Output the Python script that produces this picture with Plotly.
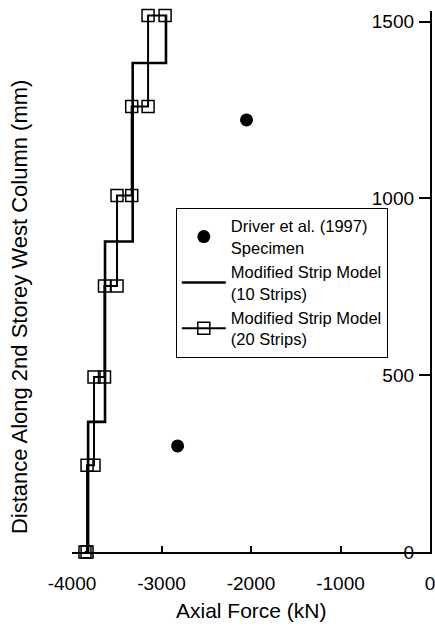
import plotly.graph_objects as go

# Driver et al. (1997) specimen measurements
driver_force = [-2050, -2820]
driver_dist = [1222, 300]

# Modified Strip Model (10 strips) - step profile
strip10_force = [-3820, -3820, -3631, -3631, -3322, -3322, -2950, -2950]
strip10_dist = [0, 368, 368, 878, 878, 1383, 1383, 1520]

# Modified Strip Model (20 strips) - step profile with markers at corners
strip20_force = [-3855, -3832, -3832, -3754, -3754, -3637, -3637, -3497,
                 -3497, -3333, -3333, -3150, -3150, -2960]
strip20_dist = [0, 0, 245, 245, 495, 495, 752, 752,
                1008, 1008, 1260, 1260, 1517, 1517]

x_ticks = [-4000, -3000, -2000, -1000, 0]
y_ticks = [0, 500, 1000, 1500]

FONT = "Arial, 'Liberation Sans', sans-serif"

fig = go.Figure()
fig.add_trace(go.Scatter(
    x=driver_force, y=driver_dist, mode="markers",
    name="Driver et al. (1997)<br>Specimen",
    marker=dict(symbol="circle", size=13, color="black"),
    cliponaxis=False,
))
fig.add_trace(go.Scatter(
    x=strip10_force, y=strip10_dist, mode="lines",
    name="Modified Strip Model<br>(10 Strips)",
    line=dict(color="black", width=2.6),
    cliponaxis=False,
))
fig.add_trace(go.Scatter(
    x=strip20_force, y=strip20_dist, mode="lines+markers",
    name="Modified Strip Model<br>(20 Strips)",
    line=dict(color="black", width=2),
    marker=dict(symbol="square-open", size=12, color="black",
                line=dict(width=1.5, color="black")),
    cliponaxis=False,
))

fig.update_layout(
    template="none",
    width=435, height=635,
    margin=dict(l=72, r=5, t=11, b=83, autoexpand=False),
    paper_bgcolor="white", plot_bgcolor="white",
    font=dict(family=FONT, size=19, color="black"),
    showlegend=True,
    legend=dict(
        x=0.29, y=0.498, xanchor="left", yanchor="middle",
        bgcolor="white", bordercolor="black", borderwidth=1,
        font=dict(family=FONT, size=16.5, color="black"),
        itemwidth=44, tracegroupgap=0,
    ),
    xaxis=dict(
        range=[-4000, 0], tickvals=x_ticks,
        ticktext=[str(v) for v in x_ticks],
        showline=True, linecolor="black", linewidth=1.5,
        ticks="inside", ticklen=6, tickcolor="black", tickwidth=1.5,
        showgrid=False, zeroline=False,
        tickfont=dict(family=FONT, size=19, color="black"),
        ticklabelstandoff=13, ticklabeloverflow="allow",
    ),
    yaxis=dict(
        range=[0, 1530], tickvals=y_ticks,
        ticktext=[str(v) for v in y_ticks],
        side="right", ticklabelposition="inside",
        showline=True, linecolor="black", linewidth=1.5,
        ticks="inside", ticklen=11, tickcolor="black", tickwidth=1.5,
        showgrid=False, zeroline=False,
        tickfont=dict(family=FONT, size=19, color="black"),
        ticklabelstandoff=6, ticklabeloverflow="allow",
    ),
    annotations=[
        dict(text="Axial Force (kN)", xref="paper", yref="paper",
             x=0.5, y=-0.109, xanchor="center", yanchor="middle",
             showarrow=False, font=dict(family=FONT, size=21, color="black")),
        dict(text="Distance Along 2nd Storey West Column (mm)",
             xref="paper", yref="paper", x=-0.145, y=0.453,
             xanchor="center", yanchor="middle", textangle=-90,
             showarrow=False, font=dict(family=FONT, size=22, color="black")),
    ],
)

fig.write_html("out.html", config={"displayModeBar": False},
               post_script="document.body.style.margin='0';")
